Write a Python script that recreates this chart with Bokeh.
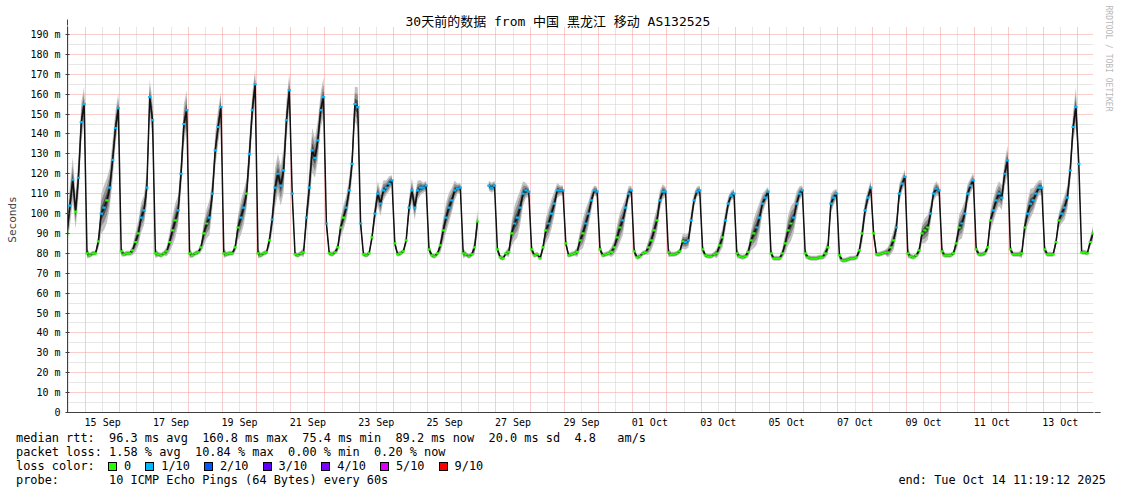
import math
import html
import pandas as pd
from bokeh.plotting import figure
from bokeh.layouts import column
from bokeh.models import (Range1d, FixedTicker, Arrow, NormalHead, ColumnDataSource, Title, Div)
from bokeh.embed import file_html
from bokeh.resources import INLINE

nan = float("nan")

# ---------------- data ----------------
first_day = "2025-09-14"
graph_start = "2025-09-14 11:19:12"
graph_end = "2025-10-14 11:19:12"
sample_hours = [1, 3, 5, 7, 9, 11, 13, 15, 17, 19, 21, 23]

# median rtt in ms, 12 readings per day (at sample_hours), Sep 14 .. Oct 14
rtt_median = [
    nan, nan, nan, nan, nan, 90, 104, 117, 101, 118, 146, 155,            # Sep 14
    80, 79, 80, 80, 86, 100, 103, 106.6, 113, 127, 143, 153,              # Sep 15
    81, 79.5, 80, 80, 81.5, 85.7, 90, 98, 101.6, 113, 158.5, 147,         # Sep 16
    80, 79.5, 79, 80, 81, 85.7, 91.5, 96.6, 101.6, 120, 145, 152,         # Sep 17
    80, 79, 80, 80.5, 83, 90, 95, 98, 110, 131.8, 143.5, 153.5,           # Sep 18
    80, 79.5, 80, 80, 83, 93, 98, 103, 110, 130, 152, 165,                # Sep 19
    80, 79, 80, 80.5, 86.5, 97, 113, 120, 114, 121.7, 147, 162,           # Sep 20
    110, 79.5, 79, 80, 80.5, 98, 113, 131.8, 128, 136.8, 152, 158.5,      # Sep 21
    95, 80, 79.5, 80.5, 83, 93, 98, 103, 111.6, 125, 155, 153.5,          # Sep 22
    95, 79.5, 79, 80, 88, 100, 110, 105, 111.6, 113, 115, 116.7,          # Sep 23
    85, 79.5, 80, 81, 86.5, 103, 111.6, 103, 111.6, 113, 113, 114,        # Sep 24
    82, 79, 78.5, 80, 84, 91.5, 98, 103, 106.6, 111.6, 112.5, 113,        # Sep 25
    80, 79.5, 78.5, 79.5, 83, 96, nan, nan, nan, 114, 113, 114,           # Sep 26
    82, 78, 77.5, 80, 80.7, 90, 95, 98, 103, 110, 111.6, 111,             # Sep 27
    82, 79, 79.5, 77.5, 83, 91.5, 95, 100, 105, 111.6, 111.6, 111.6,      # Sep 28
    85, 79, 79.5, 80, 80.7, 86.5, 90, 95, 100, 106.6, 111.6, 111,         # Sep 29
    82, 79, 79.5, 80, 80.7, 83, 88, 93, 96.6, 103, 110, 111.6,            # Sep 30
    81, 78, 78.5, 80, 80.5, 83, 86.5, 91.5, 96.6, 106.6, 111, 111,        # Oct 01
    80.5, 79.5, 79.5, 80, 81, 86, 85.7, 86.5, 96.6, 106.6, 111, 111.6,    # Oct 02
    82, 79, 78.5, 78.5, 79.5, 80, 84, 88, 96.6, 105, 109, 110,            # Oct 03
    80, 78.5, 78, 78.5, 80.7, 86.5, 90, 93, 98, 105, 108, 111,            # Oct 04
    80, 77.5, 77.5, 77.5, 80, 85, 91.5, 95, 98, 105, 110, 111.6,          # Oct 05
    80, 78, 77.5, 77.5, 77.5, 78, 78, 80, 83, 105, 108, 110,              # Oct 06
    79, 76.5, 76.5, 77, 77.5, 77.5, 78, 81.5, 90, 101.6, 108, 113,        # Oct 07
    90, 79.5, 79.5, 80, 80.5, 80.5, 83, 86.5, 93, 110, 115, 118.4,        # Oct 08
    80, 78.5, 78, 79, 81.5, 90, 91.5, 93, 100, 110, 112.5, 111.6,         # Oct 09
    81, 79, 79, 79, 80, 85, 93, 95, 100, 110, 114, 116.7,                 # Oct 10
    82, 79.5, 79.5, 80, 83, 96.6, 101.6, 106.6, 110, 108, 120, 126.7,     # Oct 11
    82, 79.5, 79.5, 79.5, 80, 93, 100, 105, 106.6, 110, 113, 113,         # Oct 12
    82, 79.5, 79.5, 79.5, 85.7, 96.6, 100, 103, 108, 121.7, 143.5, 153.5, # Oct 13
    125, 80.5, 80.5, 80, 85.7, 90, nan, nan, nan, nan, nan, nan,          # Oct 14
]

# half-width of the ping "smoke" around the median, ms
rtt_spread = [
    0, 0, 0, 0, 0, 5, 8, 9, 7, 8, 8, 7,
    2, 1, 1, 1, 3, 8, 9, 9, 8, 8, 7, 6,
    2, 1, 1, 1, 2, 4, 5, 6, 6, 7, 7, 8,
    2, 1, 1, 1, 2, 4, 6, 7, 6, 7, 8, 8,
    2, 1, 1, 1, 2, 5, 6, 7, 6, 7, 7, 6,
    2, 1, 1, 1, 2, 5, 7, 7, 6, 7, 7, 6,
    2, 1, 1, 1, 3, 5, 8, 8, 8, 9, 8, 7,
    3, 1, 1, 1, 2, 5, 7, 9, 8, 8, 7, 8,
    3, 1, 1, 1, 2, 4, 5, 5, 5, 6, 7, 8,
    3, 1, 1, 1, 2, 4, 5, 5, 4, 3, 3, 2,
    2, 1, 1, 1, 2, 4, 5, 5, 4, 3, 2, 2,
    2, 1, 1, 1, 3, 5, 6, 6, 5, 4, 2, 2,
    2, 1, 1, 1, 3, 5, 0, 0, 0, 2, 2, 2,
    2, 1, 1, 1, 2, 5, 7, 8, 7, 5, 3, 2,
    2, 1, 1, 1, 2, 5, 6, 6, 5, 3, 2, 2,
    2, 1, 1, 1, 2, 4, 6, 6, 5, 4, 2, 2,
    2, 1, 1, 1, 2, 3, 5, 6, 6, 4, 3, 2,
    2, 1, 1, 1, 1, 3, 4, 5, 5, 4, 3, 2,
    2, 1, 1, 1, 1, 3, 3, 3, 4, 3, 2, 2,
    2, 1, 1, 1, 1, 2, 3, 4, 4, 3, 2, 2,
    2, 1, 1, 1, 2, 4, 6, 7, 6, 4, 3, 2,
    2, 1, 1, 1, 2, 4, 6, 7, 6, 5, 3, 2,
    2, 1, 1, 1, 1, 1, 1, 2, 3, 4, 3, 2,
    2, 1, 1, 1, 1, 1, 1, 2, 4, 4, 3, 3,
    3, 1, 1, 1, 1, 2, 3, 4, 4, 4, 3, 3,
    2, 1, 1, 1, 2, 4, 5, 5, 4, 3, 3, 2,
    2, 1, 1, 1, 1, 3, 5, 6, 5, 4, 3, 3,
    2, 1, 1, 1, 2, 4, 5, 5, 5, 5, 5, 6,
    2, 1, 1, 1, 2, 4, 5, 6, 5, 4, 3, 3,
    2, 1, 1, 1, 2, 3, 4, 5, 5, 5, 6, 8,
    3, 1, 1, 1, 2, 3, 0, 0, 0, 0, 0, 0,
]

# packet loss per reading, in tenths (0 = no loss, 1 = 1/10)
rtt_loss = [
    0, 0, 0, 0, 0, 0, 1, 1, 0, 1, 1, 1,
    0, 0, 0, 0, 0, 1, 1, 0, 1, 1, 1, 1,
    0, 0, 0, 0, 0, 0, 0, 1, 1, 1, 1, 1,
    0, 0, 0, 0, 0, 0, 0, 0, 1, 1, 1, 1,
    0, 0, 0, 0, 0, 0, 0, 1, 1, 1, 1, 1,
    0, 0, 0, 0, 0, 0, 1, 1, 0, 1, 1, 1,
    0, 0, 0, 0, 0, 1, 1, 1, 1, 1, 1, 1,
    1, 0, 0, 0, 0, 1, 1, 1, 1, 1, 1, 1,
    1, 0, 0, 0, 0, 0, 0, 1, 1, 1, 1, 1,
    1, 0, 0, 0, 0, 1, 1, 1, 1, 1, 1, 1,
    0, 0, 0, 0, 0, 1, 1, 1, 1, 1, 1, 1,
    0, 0, 0, 0, 0, 0, 1, 1, 1, 1, 1, 1,
    0, 0, 0, 0, 0, 0, 0, 0, 0, 1, 1, 1,
    0, 0, 0, 0, 0, 0, 1, 1, 1, 1, 1, 1,
    0, 0, 0, 0, 0, 0, 1, 1, 1, 1, 1, 1,
    0, 0, 0, 0, 0, 0, 0, 1, 1, 1, 1, 1,
    0, 0, 0, 0, 0, 0, 0, 0, 1, 1, 1, 1,
    0, 0, 0, 0, 0, 0, 0, 0, 0, 1, 1, 1,
    0, 0, 0, 0, 0, 0, 1, 1, 1, 1, 1, 1,
    0, 0, 0, 0, 0, 0, 0, 0, 1, 1, 1, 1,
    0, 0, 0, 0, 0, 0, 0, 1, 1, 1, 1, 1,
    0, 0, 0, 0, 0, 0, 0, 0, 1, 1, 1, 1,
    0, 0, 0, 0, 0, 0, 0, 0, 0, 1, 1, 1,
    0, 0, 0, 0, 0, 0, 0, 0, 0, 1, 1, 1,
    0, 0, 0, 0, 0, 0, 0, 0, 1, 1, 1, 1,
    0, 0, 0, 0, 0, 0, 0, 0, 1, 1, 1, 1,
    0, 0, 0, 0, 0, 0, 0, 1, 1, 1, 1, 1,
    0, 0, 0, 0, 0, 0, 1, 1, 1, 1, 1, 1,
    0, 0, 0, 0, 0, 0, 1, 1, 1, 1, 1, 1,
    0, 0, 0, 0, 0, 0, 1, 1, 1, 1, 1, 1,
    1, 0, 0, 0, 0, 0, 0, 0, 0, 0, 0, 0,
]

loss_levels = [0, 1, 2, 3, 4, 5, 9]
loss_labels = ["0", "1/10", "2/10", "3/10", "4/10", "5/10", "9/10"]
loss_colors = ["#26ff00", "#00b8ff", "#0059ff", "#5e00ff", "#7e00ff", "#dd00ff", "#ff0000"]

y_tick_values = [0, 10, 20, 30, 40, 50, 60, 70, 80, 90, 100, 110, 120, 130, 140, 150, 160, 170, 180, 190]
y_tick_labels = ["0", "10 m", "20 m", "30 m", "40 m", "50 m", "60 m", "70 m", "80 m", "90 m", "100 m",
                 "110 m", "120 m", "130 m", "140 m", "150 m", "160 m", "170 m", "180 m", "190 m"]
x_label_days = ["2025-09-15", "2025-09-17", "2025-09-19", "2025-09-21", "2025-09-23", "2025-09-25",
                "2025-09-27", "2025-09-29", "2025-10-01", "2025-10-03", "2025-10-05", "2025-10-07",
                "2025-10-09", "2025-10-11", "2025-10-13"]
x_tick_labels = ["15 Sep", "17 Sep", "19 Sep", "21 Sep", "23 Sep", "25 Sep", "27 Sep", "29 Sep",
                 "01 Oct", "03 Oct", "05 Oct", "07 Oct", "09 Oct", "11 Oct", "13 Oct"]

title_text = "30天前的数据 from 中国 黑龙江 移动 AS132525"
footer_rtt = "median rtt:  96.3 ms avg  160.8 ms max  75.4 ms min  89.2 ms now  20.0 ms sd  4.8   am/s"
footer_loss = "packet loss: 1.58 % avg  10.84 % max  0.00 % min  0.20 % now"
footer_color = "loss color:"
footer_probe = "probe:       10 ICMP Echo Pings (64 Bytes) every 60s"
footer_end = "end: Tue Oct 14 11:19:12 2025"
watermark = "RRDTOOL / TOBI OETIKER"

# ---------------- derived time coordinates (hours since first_day 00:00) ----------------
assert len(rtt_median) == len(rtt_spread) == len(rtt_loss)
day0 = pd.Timestamp(first_day)
n_per_day = len(sample_hours)
t_hours = [(i // n_per_day) * 24 + sample_hours[i % n_per_day] for i in range(len(rtt_median))]
start_h = (pd.Timestamp(graph_start) - day0).total_seconds() / 3600
end_h = (pd.Timestamp(graph_end) - day0).total_seconds() / 3600
n_days = int(end_h // 24) + 1
midnights = [24 * d for d in range(1, n_days) if start_h < 24 * d < end_h]
noons = [24 * d + 12 for d in range(n_days) if start_h < 24 * d + 12 < end_h]
x_tick_pos = [(pd.Timestamp(d) - day0).total_seconds() / 3600 + 12 for d in x_label_days]

MONO = "DejaVu Sans Mono"
W = 1121
H_MAIN, H_FOOT = 432, 62
FL, FR, FT, FB = 67, 1093, 26, 412     # frame edges in pixels
PX_PER_MS = 1.9895
y_top = (FB - FT) / PX_PER_MS

p = figure(width=W, height=H_MAIN, output_backend="svg", toolbar_location=None,
           x_range=Range1d(start_h, end_h), y_range=Range1d(0, y_top),
           min_border_left=FL, min_border_right=W - FR, min_border_top=FT,
           min_border_bottom=H_MAIN - FB, outline_line_color=None,
           background_fill_color="white", border_fill_color="white")

# title (above)
p.title.text = title_text
p.title.text_font = "'DejaVu Sans Mono', 'Noto Sans CJK SC'"
p.title.text_font_size = "13px"
p.title.text_font_style = "normal"
p.title.text_color = "#000000"
p.title.align = "left"
p.title.offset = 405 - FL
p.title.standoff = -5

# watermark (right side, reading top to bottom)
p.add_layout(Title(text=watermark, align="left", vertical_align="top", offset=-21, standoff=16,
                   text_font=MONO, text_font_size="8px", text_font_style="normal",
                   text_color="#b8b8b8"), "right")

# axes
p.yaxis.ticker = FixedTicker(ticks=y_tick_values)
p.yaxis.major_label_overrides = dict(zip(y_tick_values, y_tick_labels))
p.yaxis.axis_label = "Seconds"
p.yaxis.axis_label_text_font = MONO
p.yaxis.axis_label_text_font_size = "11px"
p.yaxis.axis_label_text_font_style = "normal"
p.yaxis.axis_label_standoff = 8
p.yaxis.major_tick_out = 2
p.yaxis.major_tick_in = 2
p.yaxis.major_label_standoff = 5

p.xaxis.ticker = FixedTicker(ticks=x_tick_pos)
p.xaxis.major_label_overrides = dict(zip(x_tick_pos, x_tick_labels))
p.xaxis.major_tick_out = 0
p.xaxis.major_tick_in = 0
p.xaxis.major_label_standoff = 4

for ax in (p.xaxis, p.yaxis):
    ax.major_label_text_font = MONO
    ax.major_label_text_font_size = "10px"
    ax.major_label_text_color = "#000000"
    ax.minor_tick_out = 0
    ax.minor_tick_in = 0
    ax.axis_line_color = "#404040"
    ax.major_tick_line_color = "#404040"

# grids
p.xgrid.ticker = FixedTicker(ticks=midnights, minor_ticks=noons)
p.ygrid.ticker = FixedTicker(ticks=y_tick_values[1:], minor_ticks=[v + 5 for v in y_tick_values[:-1]])
for g in (p.xgrid, p.ygrid):
    g.grid_line_color = "#f59a9a"
    g.grid_line_dash = "1 1"
    g.grid_line_alpha = 1.0
    g.minor_grid_line_color = "#cfcfcf"
    g.minor_grid_line_dash = "1 1"

# smoke (split at gaps)
segments, cur = [], []
for t, m, s in zip(t_hours, rtt_median, rtt_spread):
    if math.isnan(m):
        if cur:
            segments.append(cur)
            cur = []
    else:
        cur.append((t, m, s))
if cur:
    segments.append(cur)

for frac, shade in ((1.25, "#c2c2c2"), (0.8, "#8c8c8c"), (0.4, "#4a4a4a")):
    for seg in segments:
        xs = [a[0] for a in seg]
        lo = [a[1] - a[2] * frac for a in seg]
        hi = [a[1] + a[2] * frac for a in seg]
        p.varea(x=xs, y1=lo, y2=hi, fill_color=shade, fill_alpha=1.0)

# median line
p.line(x=t_hours, y=rtt_median, line_color="#111111", line_width=1.5)

# loss-coloured median dashes
for lvl, col in zip(loss_levels, loss_colors):
    idx = [i for i, l in enumerate(rtt_loss) if l == lvl and not math.isnan(rtt_median[i])]
    if not idx:
        continue
    src = ColumnDataSource(dict(t=[t_hours[i] for i in idx], y=[rtt_median[i] for i in idx]))
    p.rect(x="t", y="y", width=3.2, height=2.2, width_units="screen", height_units="screen",
           source=src, fill_color=col, line_color=None)

# axis arrows
head_col = "#7d1c1c"
p.add_layout(Arrow(end=NormalHead(size=6, fill_color=head_col, line_color=head_col),
                   x_start=start_h, y_start=y_top, x_end=start_h, y_end=y_top + 3.5,
                   line_color="#404040"))
p.add_layout(Arrow(end=NormalHead(size=6, fill_color=head_col, line_color=head_col),
                   x_start=end_h, y_start=0, x_end=end_h + 5.0, y_end=0, line_color="#404040"))

# ---------------- footer: statistics lines and loss colour legend ----------------
FOOT_FS = 11.9
ADV = 0.602 * FOOT_FS
X0 = 16
ROW_C = [438 - H_MAIN, 452 - H_MAIN, 466 - H_MAIN, 480 - H_MAIN]   # row centres
LINE_H = 14

def row_div(text, row, left=None, right=None):
    pos = f"left:{left:.1f}px;" if left is not None else f"right:{right:.1f}px;"
    return (f'<div style="position:absolute;{pos}top:{ROW_C[row] - LINE_H / 2:.1f}px;'
            f'white-space:pre;line-height:{LINE_H}px;">{html.escape(text)}</div>')

parts = [row_div(footer_rtt, 0, left=X0), row_div(footer_loss, 1, left=X0),
         row_div(footer_color, 2, left=X0), row_div(footer_probe, 3, left=X0),
         row_div(footer_end, 3, right=W - 1106)]
box_x = X0 + (len(footer_color) + 2) * ADV - 1
for lab, col in zip(loss_labels, loss_colors):
    parts.append(f'<div style="position:absolute;left:{box_x:.1f}px;top:{ROW_C[2] - 4.5:.1f}px;'
                 f'width:9px;height:9px;box-sizing:border-box;border:1px solid #000;'
                 f'background:{col};"></div>')
    parts.append(row_div(lab, 2, left=box_x + 16))
    box_x += 16 + len(lab) * ADV + 14

footer_html = (f'<div style="position:relative;width:{W}px;height:{H_FOOT}px;'
               f'font-family:\'{MONO}\';font-size:{FOOT_FS}px;color:#000;background:#fff;">'
               + "".join(parts) + "</div>")
footer = Div(text=footer_html, width=W, height=H_FOOT, margin=0)

layout = column(p, footer, spacing=0)
open("out.html", "w").write(file_html(layout, INLINE))
